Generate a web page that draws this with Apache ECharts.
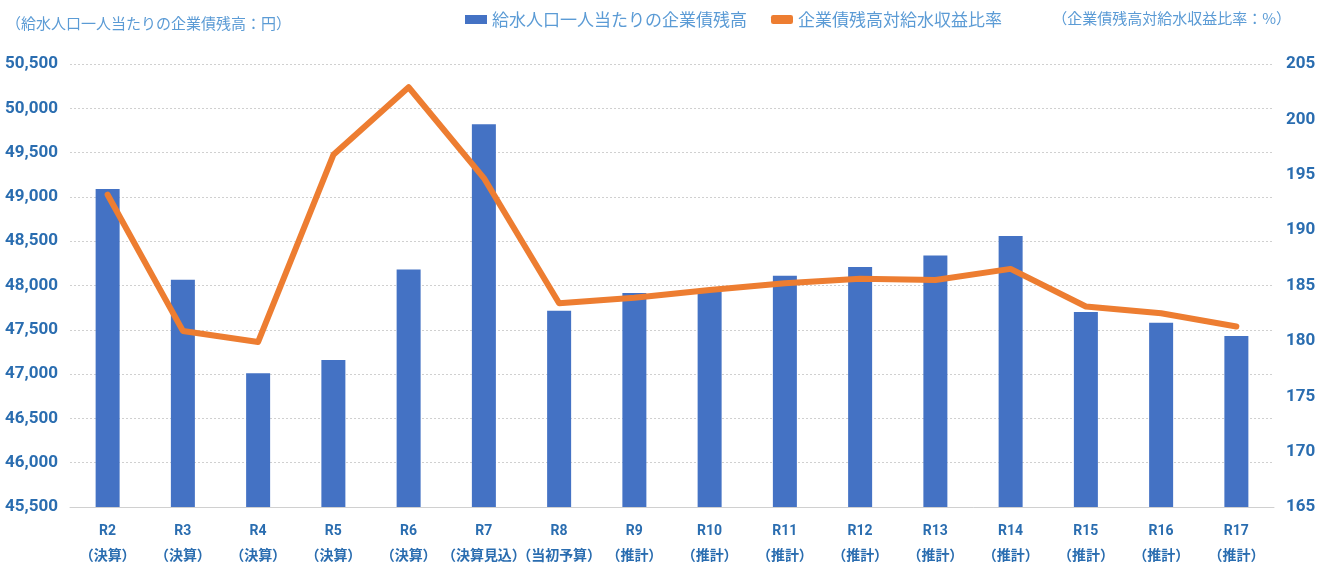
<!DOCTYPE html>
<html>
<head>
<meta charset="utf-8">
<script src="https://cdn.jsdelivr.net/npm/echarts@6/dist/echarts.min.js"></script>
<style>
  html, body { margin: 0; padding: 0; background: #fff; }
  #chart { width: 1335px; height: 563px; }
</style>
</head>
<body>
<div id="chart"></div>
<script>
// Fiscal years and their status notes
const years = ['R2', 'R3', 'R4', 'R5', 'R6', 'R7', 'R8', 'R9', 'R10', 'R11', 'R12', 'R13', 'R14', 'R15', 'R16', 'R17'];
const notes = ['決算', '決算', '決算', '決算', '決算', '決算見込', '当初予算', '推計', '推計', '推計', '推計', '推計', '推計', '推計', '推計', '推計'];

// Outstanding bonds per served person (yen)
const debtPerCapita = [49090, 48065, 47010, 47160, 48180, 49820, 47715, 47915, 47930, 48110, 48210, 48340, 48560, 47700, 47580, 47430];
// Outstanding bonds to water revenue ratio (%)
const debtRevenueRatio = [193.2, 180.9, 179.9, 196.8, 202.9, 194.7, 183.4, 183.9, 184.6, 185.2, 185.6, 185.5, 186.5, 183.1, 182.5, 181.3];

const barName = '給水人口一人当たりの企業債残高';
const lineName = '企業債残高対給水収益比率';
const leftAxisTitle = '（給水人口一人当たりの企業債残高：円）';
const rightAxisTitle = '（企業債残高対給水収益比率：%）';

const numFont = '"Liberation Sans Narrow", "Roboto", sans-serif';
const cjkFont = '"Noto Sans CJK JP", sans-serif';
const labelBlue = '#2a6db0';
const titleBlue = '#5b9bd5';

const chart = echarts.init(document.getElementById('chart'));
chart.setOption({
  backgroundColor: '#ffffff',
  animation: false,
  textStyle: { fontFamily: cjkFont },
  legend: {
    left: 460,
    top: 6,
    itemWidth: 22,
    itemHeight: 9,
    itemGap: 24,
    textStyle: { color: titleBlue, fontSize: 17, fontFamily: cjkFont },
    data: [
      { name: barName, icon: 'rect' },
      { name: lineName, icon: 'roundRect' }
    ]
  },
  graphic: [
    {
      type: 'text', left: 6, top: 16,
      style: { text: leftAxisTitle, fill: titleBlue, font: '15px ' + cjkFont }
    },
    {
      type: 'text', right: 44, top: 11,
      style: { text: rightAxisTitle, fill: titleBlue, font: '15px ' + cjkFont }
    }
  ],
  grid: { left: 70, right: 61, top: 64, bottom: 56 },
  xAxis: {
    type: 'category',
    data: years,
    axisLine: { lineStyle: { color: '#d0d0d0', width: 1 } },
    axisTick: { show: false },
    axisLabel: {
      interval: 0,
      margin: 12,
      formatter: function (v, i) { return '{a|' + v + '}\n{b|（' + notes[i] + '）}'; },
      rich: {
        a: { color: labelBlue, fontSize: 14, fontWeight: 'bold', fontFamily: numFont, lineHeight: 24 },
        b: { color: labelBlue, fontSize: 14, fontWeight: 'bold', fontFamily: cjkFont, lineHeight: 24 }
      }
    }
  },
  yAxis: [
    {
      type: 'value',
      min: 45500, max: 50500, interval: 500,
      axisLine: { show: false },
      axisTick: { show: false },
      splitLine: { lineStyle: { color: '#d0d0d0', type: [2, 2], width: 1 } },
      axisLabel: {
        color: labelBlue, fontSize: 17, fontWeight: 'bold', fontFamily: numFont, margin: 12,
        formatter: function (v) { return v.toLocaleString('en-US'); }
      }
    },
    {
      type: 'value',
      min: 165, max: 205, interval: 5,
      axisLine: { show: false },
      axisTick: { show: false },
      splitLine: { show: false },
      axisLabel: { color: labelBlue, fontSize: 17, fontWeight: 'bold', fontFamily: numFont, margin: 12 }
    }
  ],
  series: [
    {
      name: barName,
      type: 'bar',
      yAxisIndex: 0,
      data: debtPerCapita,
      barWidth: 24,
      itemStyle: { color: '#4472c4' }
    },
    {
      name: lineName,
      type: 'line',
      yAxisIndex: 1,
      data: debtRevenueRatio,
      symbol: 'none',
      lineStyle: { color: '#ed7d31', width: 6, cap: 'round', join: 'round' },
      itemStyle: { color: '#ed7d31' }
    }
  ]
});
</script>
</body>
</html>
